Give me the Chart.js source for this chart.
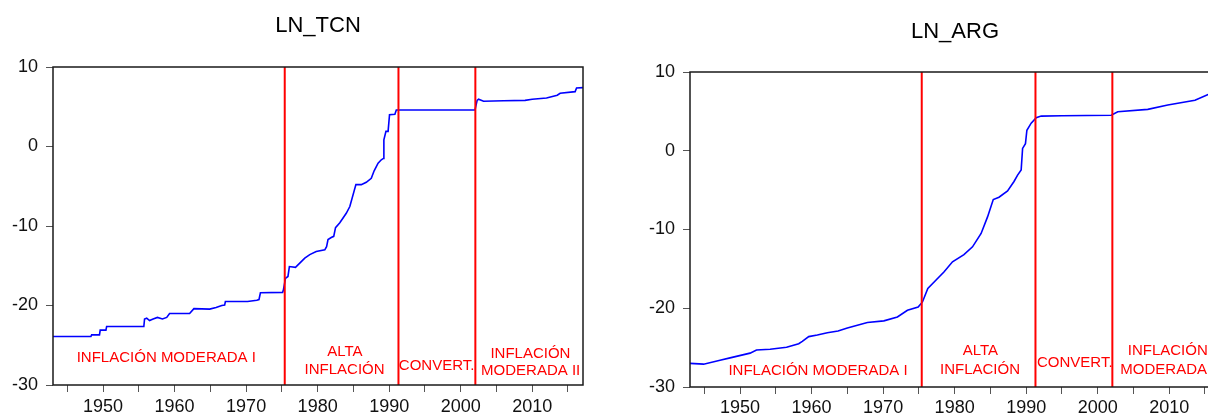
<!DOCTYPE html>
<html>
<head>
<meta charset="utf-8">
<script src="https://cdn.jsdelivr.net/npm/chart.js@4/dist/chart.umd.min.js"></script>
<style>
  html, body { margin: 0; padding: 0; background: #fff; }
  body { width: 1208px; height: 414px; overflow: hidden; position: relative; }
  canvas { position: absolute; top: 0; }
  #tcn { left: 0; }
  #arg { left: 637px; }
</style>
</head>
<body>
<canvas id="tcn" width="600" height="414"></canvas>
<canvas id="arg" width="600" height="414"></canvas>
<script>
// LN_TCN: log of the nominal exchange rate (step-like series)
const tcnYears = [1943.0, 1948.3, 1948.4, 1949.5, 1949.6, 1950.4, 1950.5, 1955.7, 1955.8, 1956.1,
  1956.5, 1957.0, 1957.6, 1958.3, 1958.9, 1959.3, 1962.1, 1962.7, 1964.9, 1965.8,
  1966.6, 1967.0, 1967.1, 1970.2, 1971.5, 1971.8, 1972.0, 1975.1, 1975.2, 1975.5,
  1975.85, 1976.05, 1976.9, 1978.2, 1978.9, 1979.8, 1981.0, 1981.25, 1981.45, 1981.9,
  1982.25, 1982.5, 1983.1, 1984.0, 1984.5, 1985.35, 1986.1, 1986.8, 1987.5, 1987.9,
  1988.45, 1988.9, 1989.2, 1989.26, 1989.55, 1989.85, 1990.05, 1990.8, 1991.0, 2002.0,
  2002.3, 2002.5, 2003.2, 2006.0, 2009.0, 2010.0, 2012.0, 2013.5, 2013.9, 2016.0,
  2016.2, 2017.1];
const tcnValues = [-23.9, -23.9, -23.7, -23.7, -23.1, -23.1, -22.65, -22.65, -21.7, -21.6,
  -21.9, -21.7, -21.5, -21.7, -21.5, -21.0, -21.0, -20.4, -20.45, -20.25,
  -20.0, -19.95, -19.5, -19.5, -19.35, -19.25, -18.4, -18.35, -18.1, -16.6,
  -16.35, -15.1, -15.2, -14.05, -13.6, -13.2, -13.0, -12.6, -11.7, -11.45,
  -11.3, -10.2, -9.6, -8.4, -7.55, -4.8, -4.8, -4.5, -4.0, -3.06,
  -2.1, -1.67, -1.5, 0.84, 1.9, 1.9, 4.0, 4.05, 4.6, 4.6,
  5.8, 5.95, 5.7, 5.75, 5.8, 5.95, 6.1, 6.45, 6.7, 6.9,
  7.35, 7.4];

// LN_ARG: log of the price level (smooth series)
const argYears = [1943.0, 1944.9, 1947.2, 1948.6, 1951.4, 1952.3, 1954.2, 1956.5, 1958.2, 1958.7,
  1959.6, 1960.8, 1962.2, 1963.7, 1965.0, 1967.8, 1970.1, 1972.0, 1973.4, 1974.9,
  1975.5, 1976.25, 1977.2, 1978.5, 1979.7, 1981.3, 1982.5, 1983.7, 1984.6, 1985.4,
  1986.2, 1987.4, 1988.3, 1988.8, 1989.3, 1989.5, 1989.9, 1990.1, 1990.7, 1991.4,
  1992.1, 1995.0, 2001.9, 2002.8, 2007.0, 2009.8, 2013.6, 2015.6, 2017.1];
const argValues = [-27.0, -27.1, -26.6, -26.3, -25.7, -25.3, -25.2, -24.95, -24.5, -24.2,
  -23.6, -23.4, -23.1, -22.9, -22.5, -21.8, -21.6, -21.1, -20.25, -19.85,
  -19.2, -17.5, -16.6, -15.4, -14.1, -13.2, -12.2, -10.5, -8.4, -6.2,
  -5.9, -5.1, -3.9, -3.1, -2.45, 0.3, 0.9, 2.6, 3.5, 4.2,
  4.4, 4.45, 4.5, 4.95, 5.25, 5.8, 6.4, 7.2, 7.5];

// Regime breaks (vertical red lines)
const breakYears = [1975.4, 1991.3, 2002.05];

// Axis ticks
const xTickYears = [1945, 1950, 1955, 1960, 1965, 1970, 1975, 1980, 1985, 1990, 1995, 2000, 2005, 2010, 2015];
const yTickValues = [-30, -20, -10, 0, 10];

// Regime labels (one entry per text line)
const regimeText = ["INFLACIÓN MODERADA I", "ALTA", "INFLACIÓN", "CONVERT.", "INFLACIÓN", "MODERADA II"];
const tcnLabelYears = [1958.84, 1983.8, 1983.77, 1996.64, 2009.75, 2009.78];
const tcnLabelValues = [-26.58, -25.82, -28.05, -27.6, -26.08, -28.25];
const argLabelYears = [1960.9, 1983.6, 1983.55, 1996.8, 2009.8, 2010.1];
const argLabelValues = [-27.96, -25.46, -27.83, -26.9, -25.46, -27.83];

const FONT = "'Liberation Sans', Arial, Helvetica, sans-serif";

const framePlugin = {
  id: 'frame',
  afterDatasetsDraw(chart) {
    const a = chart.chartArea;
    const ctx = chart.ctx;
    ctx.save();
    ctx.strokeStyle = '#1a1a1a';
    ctx.lineWidth = 1.5;
    ctx.strokeRect(a.left, a.top, a.right - a.left, a.bottom - a.top);
    ctx.restore();
  }
};

const regimePlugin = {
  id: 'regimes',
  afterDatasetsDraw(chart, args, opts) {
    const ctx = chart.ctx;
    const xs = chart.scales.x, ys = chart.scales.y;
    ctx.save();
    ctx.fillStyle = '#ff0000';
    ctx.font = '15px ' + FONT;
    ctx.textAlign = 'center';
    ctx.textBaseline = 'middle';
    opts.text.forEach((t, i) => {
      ctx.fillText(t, xs.getPixelForValue(opts.years[i]), ys.getPixelForValue(opts.values[i]));
    });
    ctx.restore();
  }
};

function makeChart(id, title, years, values, labelYears, labelValues, titlePadTop, xAxisHeight) {
  const series = years.map((x, i) => ({ x: x, y: values[i] }));
  const breaks = breakYears.map(b => ({
    data: [{ x: b, y: -30 }, { x: b, y: 10 }],
    borderColor: '#ff0000',
    borderWidth: 2,
    pointRadius: 0,
    fill: false
  }));
  return new Chart(document.getElementById(id), {
    type: 'line',
    data: {
      datasets: [...breaks, {
        data: series,
        borderColor: '#0000ff',
        borderWidth: 1.6,
        pointRadius: 0,
        tension: 0,
        fill: false
      }]
    },
    options: {
      responsive: false,
      animation: false,
      devicePixelRatio: 1,
      layout: { padding: { left: 0, right: 17, top: 0, bottom: 0 } },
      plugins: {
        legend: { display: false },
        tooltip: { enabled: false },
        title: {
          display: true,
          text: title,
          fullSize: false,
          color: '#000',
          font: { family: FONT, size: 22, weight: 'normal', lineHeight: 1.2 },
          padding: { top: titlePadTop.top, bottom: titlePadTop.bottom }
        },
        regimes: { text: regimeText, years: labelYears, values: labelValues }
      },
      scales: {
        x: {
          type: 'linear',
          min: 1943,
          max: 2017.1,
          afterBuildTicks(scale) { scale.ticks = xTickYears.map(v => ({ value: v })); },
          afterFit(scale) { scale.height = xAxisHeight.h; },
          border: { display: false },
          grid: { drawOnChartArea: false, drawTicks: true, tickLength: 7, color: '#555', lineWidth: 1 },
          ticks: {
            autoSkip: false,
            maxRotation: 0,
            padding: xAxisHeight.pad,
            color: '#111',
            font: { family: FONT, size: 18 },
            callback: v => (v % 10 === 0 ? String(v) : '')
          }
        },
        y: {
          type: 'linear',
          min: -30,
          max: 10,
          afterBuildTicks(scale) { scale.ticks = yTickValues.map(v => ({ value: v })); },
          afterFit(scale) { scale.width = 53; },
          border: { display: false },
          grid: { drawOnChartArea: false, drawTicks: true, tickLength: 7, color: '#555', lineWidth: 1 },
          ticks: {
            padding: 8,
            color: '#111',
            font: { family: FONT, size: 18 },
            callback: v => String(v)
          }
        }
      }
    },
    plugins: [framePlugin, regimePlugin]
  });
}

makeChart('tcn', 'LN_TCN', tcnYears, tcnValues, tcnLabelYears, tcnLabelValues,
  { top: 12.9, bottom: 27.7 }, { h: 29, pad: 4 });
makeChart('arg', 'LN_ARG', argYears, argValues, argLabelYears, argLabelValues,
  { top: 18.3, bottom: 27.3 }, { h: 27, pad: 3 });
</script>
</body>
</html>
